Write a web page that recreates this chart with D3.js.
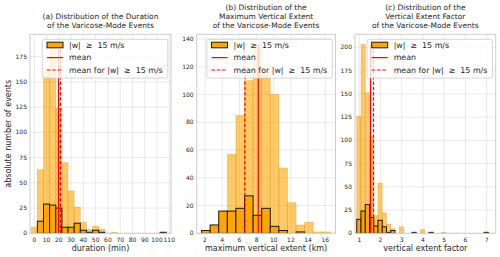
<!DOCTYPE html>
<html>
<head>
<meta charset="utf-8">
<script src="https://cdn.jsdelivr.net/npm/d3@7"></script>
<style>
  body { margin: 0; background: #fff; }
  svg text { font-family: "DejaVu Sans", sans-serif; fill: #262626; }
</style>
</head>
<body>
<svg id="chart" width="500" height="257"></svg>
<script>
// (a) duration of the events, 5 min bins
const durEdges = [-2.5, 2.5, 7.5, 12.5, 17.5, 22.5, 27.5, 32.5, 37.5, 42.5, 47.5, 52.5,
  57.5, 62.5, 67.5, 72.5, 77.5, 82.5, 87.5, 92.5, 97.5, 102.5, 107.5];
const durAll = [6, 63, 162, 183, 124, 70, 42, 26, 11, 4, 7, 4, 0, 1, 0, 0, 0, 0, 0, 0, 0, 1];
const durStrong = [0, 12, 29, 28, 25, 6, 6, 10, 3, 1, 3, 1, 0, 0, 0, 0, 0, 0, 0, 0, 0, 1];
const durMeans = [19.7, 21.3];
const durTicksX = [0, 10, 20, 30, 40, 50, 60, 70, 80, 90, 100, 110];
const durTicksY = [0, 25, 50, 75, 100, 125, 150, 175];

// (b) maximum vertical extent, 1 km bins
const extEdges = [1.6, 2.6, 3.6, 4.6, 5.6, 6.6, 7.6, 8.6, 9.6, 10.6, 11.6, 12.6, 13.6, 14.6, 15.6, 16.6];
const extAll = [2, 6, 16, 57, 85, 110, 136, 114, 100, 47, 22, 6, 8, 1, 1];
const extStrong = [2, 6, 16, 16, 18, 27, 13, 18, 5, 2, 0, 1, 0, 0, 0];
const extMeans = [8.2, 6.65];
const extTicksX = [2, 4, 6, 8, 10, 12, 14, 16];
const extTicksY = [0, 20, 40, 60, 80, 100, 120, 140];

// (c) vertical extent factor, 0.2 bins
const facEdges = [0.88, 1.08, 1.28, 1.48, 1.68, 1.88, 2.08, 2.28, 2.48, 2.68, 2.88, 3.08, 3.28,
  3.48, 3.68, 3.88, 4.08, 4.28, 4.48, 4.68, 4.88, 5.08, 5.28, 5.48, 5.68, 5.88, 6.08, 6.28,
  6.48, 6.68, 6.88, 7.08];
const facAll = [126, 203, 151, 104, 19, 54, 22, 10, 5, 0, 7, 0, 0, 1, 0, 4, 0, 1, 0, 0, 1,
  0, 0, 0, 0, 0, 0, 0, 0, 0, 1];
const facStrong = [15, 24, 31, 17, 8, 14, 7, 1, 3, 0, 0, 0, 0, 1, 0, 0, 0, 1, 0, 0, 0,
  0, 0, 0, 0, 0, 0, 0, 0, 0, 1];
const facMeans = [1.53, 1.67];
const facTicksX = [1, 2, 3, 4, 5, 6, 7];
const facTicksY = [0, 25, 50, 75, 100, 125, 150, 175, 200];

const titles = [
  ["(a) Distribution of the Duration", "of the Varicose-Mode Events"],
  ["(b) Distribution of the", "Maximum Vertical Extent", "of the Varicose-Mode Events"],
  ["(c) Distribution of the", "Vertical Extent Factor", "of the Varicose-Mode Events"]
];
const xLabels = ["duration (min)", "maximum vertical extent (km)", "vertical extent factor"];
const yLabel = "absolute number of events";
const legendLabels = ["|w|\u00a0\u00a0\u2265\u00a0\u00a015 m/s", "mean", "mean for |w|\u00a0\u00a0\u2265\u00a0\u00a015 m/s"];

const svg = d3.select("#chart");
const plotTop = 34.3, plotBottom = 233.3;

const panels = [
  { x0: 30, x1: 171, xd: [-3.5, 111.4], yd: [0, 197.2], edges: durEdges, all: durAll, strong: durStrong,
    means: durMeans, tx: durTicksX, ty: durTicksY },
  { x0: 196.7, x1: 335.5, xd: [1.034, 17.19], yd: [0, 143.4], edges: extEdges, all: extAll, strong: extStrong,
    means: extMeans, tx: extTicksX, ty: extTicksY },
  { x0: 355, x1: 495.7, xd: [0.797, 7.425], yd: [0, 214], edges: facEdges, all: facAll, strong: facStrong,
    means: facMeans, tx: facTicksX, ty: facTicksY }
];

panels.forEach((p, i) => {
  const x = d3.scaleLinear().domain(p.xd).range([p.x0, p.x1]);
  const y = d3.scaleLinear().domain(p.yd).range([plotBottom, plotTop]);
  const g = svg.append("g");

  const clipId = "clip" + i;
  g.append("clipPath").attr("id", clipId)
    .append("rect").attr("x", p.x0).attr("y", plotTop).attr("width", p.x1 - p.x0).attr("height", plotBottom - plotTop);

  // grid
  g.selectAll(".gx").data(p.tx).enter().append("line")
    .attr("x1", d => x(d)).attr("x2", d => x(d)).attr("y1", plotTop).attr("y2", plotBottom)
    .attr("stroke", "#e3e3e3").attr("stroke-width", 0.8);
  g.selectAll(".gy").data(p.ty).enter().append("line")
    .attr("x1", p.x0).attr("x2", p.x1).attr("y1", d => y(d)).attr("y2", d => y(d))
    .attr("stroke", "#e3e3e3").attr("stroke-width", 0.8);

  const plot = g.append("g").attr("clip-path", `url(#${clipId})`);

  // all events (light)
  p.all.forEach((v, j) => {
    if (v <= 0) return;
    plot.append("rect")
      .attr("x", x(p.edges[j])).attr("width", x(p.edges[j + 1]) - x(p.edges[j]))
      .attr("y", y(v)).attr("height", y(0) - y(v))
      .attr("fill", "#ffa500").attr("fill-opacity", 0.6)
      .attr("stroke", "#c98a1a").attr("stroke-opacity", 0.35).attr("stroke-width", 0.8);
  });

  // |w| >= 15 m/s
  p.strong.forEach((v, j) => {
    if (v <= 0) return;
    plot.append("rect")
      .attr("x", x(p.edges[j])).attr("width", x(p.edges[j + 1]) - x(p.edges[j]))
      .attr("y", y(v)).attr("height", y(0) - y(v))
      .attr("fill", "#ffa500").attr("stroke", "#1a1a1a").attr("stroke-width", 1);
  });

  // mean lines
  const ymax = d3.max(p.all);
  plot.append("line")
    .attr("x1", x(p.means[0])).attr("x2", x(p.means[0])).attr("y1", y(0)).attr("y2", y(ymax))
    .attr("stroke", "red").attr("stroke-width", 1.2);
  plot.append("line")
    .attr("x1", x(p.means[1])).attr("x2", x(p.means[1])).attr("y1", y(0)).attr("y2", y(ymax))
    .attr("stroke", "red").attr("stroke-width", 1.2).attr("stroke-dasharray", "3.5,1.8");

  // frame
  g.append("rect").attr("x", p.x0).attr("y", plotTop).attr("width", p.x1 - p.x0).attr("height", plotBottom - plotTop)
    .attr("fill", "none").attr("stroke", "#cccccc").attr("stroke-width", 1);

  // tick labels
  g.selectAll(".tx").data(p.tx).enter().append("text")
    .attr("x", d => x(d)).attr("y", plotBottom + 8.4)
    .attr("text-anchor", "middle").attr("font-size", 6).text(d => d);
  g.selectAll(".ty").data(p.ty).enter().append("text")
    .attr("x", p.x0 - 3).attr("y", d => y(d)).attr("dy", "0.35em")
    .attr("text-anchor", "end").attr("font-size", 6).text(d => d);

  // x label
  g.append("text").attr("x", (p.x0 + p.x1) / 2).attr("y", 251.3)
    .attr("text-anchor", "middle").attr("font-size", 8).text(xLabels[i]);

  // title
  const lines = titles[i];
  lines.forEach((t, k) => {
    g.append("text").attr("x", (p.x0 + p.x1) / 2).attr("y", 27.5 - (lines.length - 1 - k) * 8.9)
      .attr("text-anchor", "middle").attr("font-size", 7.5).text(t);
  });

  // legend
  const lw = 125.5, lh = 38.8;
  const lx = p.x1 - 3.2 - lw, ly = plotTop + 5;
  const lg = g.append("g").attr("transform", `translate(${lx},${ly})`);
  lg.append("rect").attr("width", lw).attr("height", lh).attr("rx", 2)
    .attr("fill", "white").attr("fill-opacity", 0.8).attr("stroke", "#cccccc").attr("stroke-width", 0.8);
  lg.append("rect").attr("x", 4.7).attr("y", 5.7 - 2.8).attr("width", 16).attr("height", 5.6)
    .attr("fill", "#ffa500").attr("stroke", "#1a1a1a").attr("stroke-width", 1);
  lg.append("line").attr("x1", 4.7).attr("x2", 20.7).attr("y1", 18.3).attr("y2", 18.3)
    .attr("stroke", "red").attr("stroke-width", 1.2);
  lg.append("line").attr("x1", 4.7).attr("x2", 20.7).attr("y1", 30.7).attr("y2", 30.7)
    .attr("stroke", "red").attr("stroke-width", 1.2).attr("stroke-dasharray", "3.5,1.8");
  [5.7, 18.3, 30.7].forEach((cy, k) => {
    lg.append("text").attr("x", 26.7).attr("y", cy).attr("dy", "0.35em")
      .attr("font-size", 7.9).text(legendLabels[k]);
  });
});

// y label of the first panel
svg.append("text")
  .attr("transform", `translate(10.8,${(plotTop + plotBottom) / 2}) rotate(-90)`)
  .attr("text-anchor", "middle").attr("font-size", 8).text(yLabel);
</script>
</body>
</html>
